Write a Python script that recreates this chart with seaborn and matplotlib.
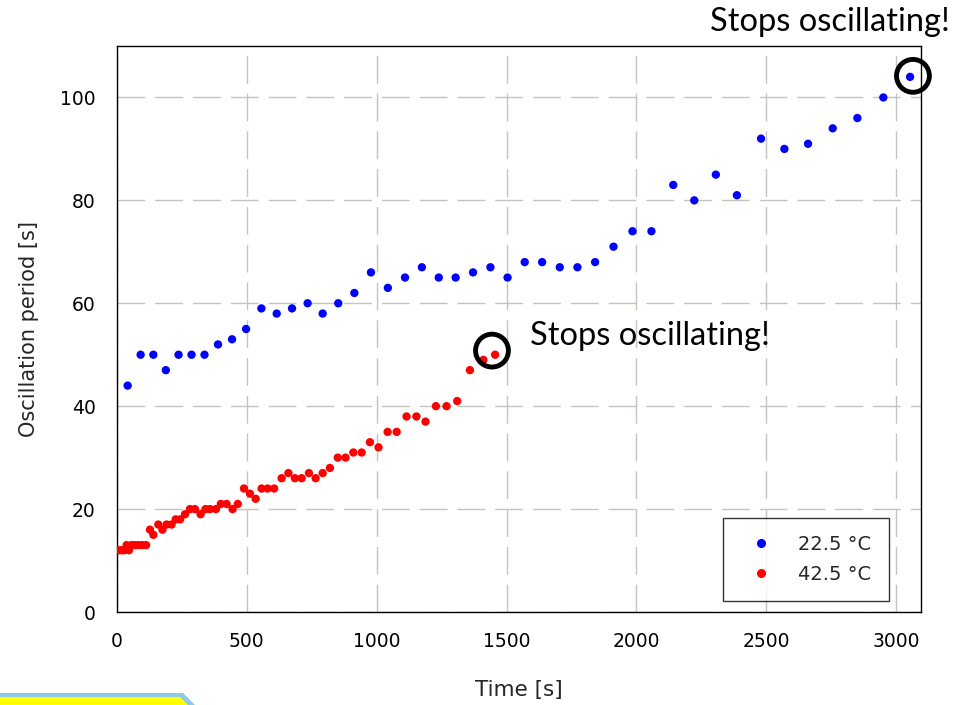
import numpy as np
import pandas as pd
import seaborn as sns
import matplotlib.pyplot as plt
from matplotlib.patches import Polygon
from matplotlib.lines import Line2D

# ---- data ----
blue_t = [41, 91, 140, 188, 237, 287, 337, 389, 443, 497, 556, 615, 674, 734, 792, 852, 914,
          978, 1043, 1109, 1174, 1239, 1304, 1371, 1438, 1504, 1570, 1637, 1705, 1773, 1841,
          1912, 1985, 2058, 2142, 2223, 2306, 2387, 2480, 2570, 2661, 2756, 2851, 2951, 3054]
blue_p = [44, 50, 50, 47, 50, 50, 50, 52, 53, 55, 59, 58, 59, 60, 58, 60, 62,
          66, 63, 65, 67, 65, 65, 66, 67, 65, 68, 68, 67, 67, 68,
          71, 74, 74, 83, 80, 85, 81, 92, 90, 91, 94, 96, 100, 104]
red_t = [6, 17, 28, 37, 46, 56, 69, 82, 97, 112,
         127, 140, 159, 175, 191, 210, 226, 243, 262, 281, 300, 322, 341, 358, 381, 400, 422,
         445, 465, 489, 512, 534, 557, 580, 605, 634, 660, 685, 711, 739, 765, 792, 820, 850,
         880, 910, 942, 974, 1007, 1042, 1077, 1115, 1153, 1188, 1228, 1269, 1310, 1359, 1411, 1456]
red_p = [12, 12, 12, 13, 12, 13, 13, 13, 13, 13,
         16, 15, 17, 16, 17, 17, 18, 18, 19, 20, 20, 19, 20, 20, 20, 21, 21,
         20, 21, 24, 23, 22, 24, 24, 24, 26, 27, 26, 26, 27, 26, 27, 28, 30,
         30, 31, 31, 33, 32, 35, 35, 38, 38, 37, 40, 40, 41, 47, 49, 50]
series_labels = ["22.5 °C", "42.5 °C"]
series_colors = ["#0000ff", "#ff0000"]
stop_t = [3065, 1444]
stop_p = [104.2, 50.8]
x_ticks = [0, 500, 1000, 1500, 2000, 2500, 3000]
y_ticks = [0, 20, 40, 60, 80, 100]

df = pd.DataFrame({
    "t": blue_t + red_t,
    "p": blue_p + red_p,
    "series": [series_labels[0]] * len(blue_t) + [series_labels[1]] * len(red_t),
})

sns.set_style("white")
plt.rcParams['font.family'] = ['DejaVu Sans']

fig = plt.figure(figsize=(9.54, 7.05), dpi=100)
ax = fig.add_axes([117/954, 1 - 612/705, (921-117)/954, (612-46)/705])

sns.scatterplot(data=df, x="t", y="p", hue="series", palette=series_colors,
                s=36, marker="o", linewidth=0, ax=ax, legend=False, zorder=3)

ax.set_xlim(0, 3096)
ax.set_ylim(0, 110)
ax.set_xticks(x_ticks)
ax.set_yticks(y_ticks)
ax.grid(True, color="#c4c4ba", linewidth=1.0, linestyle=(0, (20, 7.2)))
ax.set_axisbelow(True)
for s in ax.spines.values():
    s.set_color("black")
    s.set_linewidth(1.0)
ax.tick_params(direction="inout", length=9, width=1, labelsize=13.5, colors="black")
ax.tick_params(axis="x", pad=10)
ax.tick_params(axis="y", pad=11)
ax.set_xlabel("Time [s]", fontsize=15.5, labelpad=21)
ax.set_ylabel("Oscillation period [s]", fontsize=15, labelpad=15)

# circles around stopping points
ax.scatter(stop_t, stop_p, s=560, facecolors="none", edgecolors="black",
           linewidths=3.5, clip_on=False, zorder=4)

handles = [Line2D([], [], marker="o", ls="none", color=c, markersize=5.5) for c in series_colors]
leg = ax.legend(handles, series_labels, loc="lower right", bbox_to_anchor=(0.960, 0.019),
                fontsize=14, frameon=True, fancybox=False, edgecolor="black",
                borderpad=0.9, handlelength=2.1, handletextpad=0.85, labelspacing=0.55,
                borderaxespad=0, markerfirst=True)
leg.get_frame().set_linewidth(1.0)

fig.text(950/954, 1 - 31/705, "Stops oscillating!", ha="right", va="baseline",
         fontsize=23.5, family=["Lato", "DejaVu Sans"], color="black")
fig.text(530/954, 1 - 345/705, "Stops oscillating!", ha="left", va="baseline",
         fontsize=23.5, family=["Lato", "DejaVu Sans"], color="black")

# bottom-left decoration
fig.patches.append(Polygon([(0, 12/705), (183/954, 12/705), (195/954, 0), (0, 0)],
                           closed=True, transform=fig.transFigure, facecolor="#8ecae6",
                           edgecolor="none", zorder=1))
fig.patches.append(Polygon([(0, 8/705), (180/954, 8/705), (188/954, 0), (0, 0)],
                           closed=True, transform=fig.transFigure, facecolor="#ffff00",
                           edgecolor="none", zorder=2))

fig.savefig("out.png", dpi=100)
